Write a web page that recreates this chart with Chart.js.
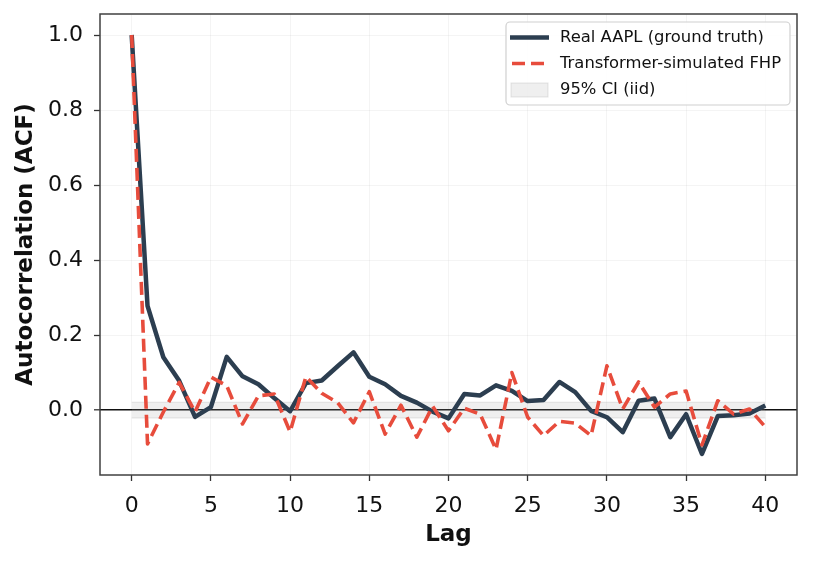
<!doctype html>
<html lang="en">
<head>
  <meta charset="utf-8">
  <title>ACF: Real AAPL vs Transformer-simulated FHP</title>
  <style>
    * {
  margin: 0;
  padding: 0;
  font-family: 'DejaVu Sans', sans-serif;
}
body {
  background: white;
}
.chartBox {
  width: 813px;
  height: 561px;
  position: relative;
}
  </style>
</head>
<body>
<div class="chartBox">
  <canvas id="myChart"></canvas>
</div>

<script src="https://cdn.jsdelivr.net/npm/chart.js"></script>
<script>
// data
const lags = [0, 1, 2, 3, 4, 5, 6, 7, 8, 9, 10, 11, 12, 13, 14, 15, 16, 17, 18, 19, 20,
  21, 22, 23, 24, 25, 26, 27, 28, 29, 30, 31, 32, 33, 34, 35, 36, 37, 38, 39, 40];

const realAcf = [1.0, 0.278, 0.141, 0.078, -0.018, 0.008, 0.142, 0.090, 0.069, 0.032, -0.003,
  0.072, 0.079, 0.117, 0.154, 0.089, 0.069, 0.038, 0.020, -0.004, -0.022,
  0.043, 0.039, 0.066, 0.051, 0.024, 0.027, 0.075, 0.048, -0.002, -0.019,
  -0.059, 0.025, 0.031, -0.072, -0.011, -0.117, -0.016, -0.014, -0.009, 0.012];

const fhpAcf = [1.0, -0.090, -0.005, 0.074, -0.005, 0.088, 0.065, -0.037, 0.038, 0.043, -0.058,
  0.089, 0.045, 0.020, -0.034, 0.049, -0.064, 0.013, -0.072, 0.010, -0.055,
  0.005, -0.011, -0.105, 0.100, -0.019, -0.068, -0.030, -0.035, -0.068, 0.118,
  0.003, 0.075, 0.008, 0.043, 0.051, -0.093, 0.025, -0.011, 0.003, -0.045];

// 95% iid band, +/- half width, over the plotted lags
const ciHalfWidth = 0.021;
const ciLags = [0, 40];

const xTicks = [0, 5, 10, 15, 20, 25, 30, 35, 40];
const yTicks = [0.0, 0.2, 0.4, 0.6, 0.8, 1.0];

const seriesLabels = ['Real AAPL (ground truth)', 'Transformer-simulated FHP', '95% CI (iid)'];

const navy = '#2c3e50';
const red = '#e74c3c';
const bandFill = 'rgba(160,160,160,0.17)';
const bandEdge = 'rgba(160,160,160,0.28)';

// frame round the plot (matplotlib spines)
const framePlugin = {
  id: 'frame',
  afterDraw(chart) {
    const {ctx, chartArea: a} = chart;
    ctx.save();
    ctx.strokeStyle = '#404040';
    ctx.lineWidth = 1.5;
    ctx.strokeRect(a.left, a.top, a.right - a.left, a.bottom - a.top);
    ctx.restore();
  }
};

// legend box in the upper right
const legendPlugin = {
  id: 'boxLegend',
  afterDraw(chart) {
    const ctx = chart.ctx;
    const x0 = 506, y0 = 22, w = 284, h = 83;
    ctx.save();
    ctx.beginPath();
    ctx.roundRect(x0, y0, w, h, 4);
    ctx.fillStyle = 'rgba(255,255,255,0.85)';
    ctx.fill();
    ctx.strokeStyle = '#d0d0d0';
    ctx.lineWidth = 1.2;
    ctx.stroke();

    const rows = [37.5, 63.5, 90];
    ctx.lineCap = 'butt';
    // solid line
    ctx.beginPath();
    ctx.strokeStyle = navy;
    ctx.lineWidth = 4.5;
    ctx.moveTo(510, rows[0]);
    ctx.lineTo(549, rows[0]);
    ctx.stroke();
    // dashed line
    ctx.beginPath();
    ctx.strokeStyle = red;
    ctx.lineWidth = 3.6;
    ctx.setLineDash([13, 6]);
    ctx.moveTo(512, rows[1]);
    ctx.lineTo(549, rows[1]);
    ctx.stroke();
    ctx.setLineDash([]);
    // band patch
    ctx.fillStyle = bandFill;
    ctx.fillRect(511, rows[2] - 7, 37, 14);
    ctx.strokeStyle = bandEdge;
    ctx.lineWidth = 1;
    ctx.strokeRect(511, rows[2] - 7, 37, 14);

    ctx.fillStyle = '#111';
    ctx.font = '16.4px "DejaVu Sans"';
    ctx.textBaseline = 'middle';
    seriesLabels.forEach((t, i) => ctx.fillText(t, 560, rows[i]));
    ctx.restore();
  }
};

const data = {
  labels: lags,
  datasets: [
    {
      label: seriesLabels[2],
      data: ciLags.map(l => ({x: l, y: ciHalfWidth})),
      borderColor: bandEdge,
      borderWidth: 1,
      pointRadius: 0,
      fill: false,
      order: 3
    },
    {
      label: seriesLabels[2] + ' lower',
      data: ciLags.map(l => ({x: l, y: -ciHalfWidth})),
      borderColor: bandEdge,
      borderWidth: 1,
      backgroundColor: bandFill,
      pointRadius: 0,
      fill: '-1',
      order: 2
    },
    {
      label: seriesLabels[0],
      data: lags.map((l, i) => ({x: l, y: realAcf[i]})),
      borderColor: navy,
      borderWidth: 4.5,
      borderJoinStyle: 'round',
      borderCapStyle: 'butt',
      pointRadius: 0,
      fill: false,
      order: 1
    },
    {
      label: seriesLabels[1],
      data: lags.map((l, i) => ({x: l, y: fhpAcf[i]})),
      borderColor: red,
      borderWidth: 3.6,
      borderDash: [13, 6],
      borderJoinStyle: 'round',
      pointRadius: 0,
      fill: false,
      order: 0
    }
  ]
};

const tickFont = {family: 'DejaVu Sans', size: 22};
const titleFont = {family: 'DejaVu Sans', size: 23, weight: 'bold'};

const config = {
  type: 'line',
  data,
  options: {
    responsive: true,
    maintainAspectRatio: false,
    animation: false,
    layout: {padding: {left: 0, right: 16, top: 14, bottom: 0}},
    scales: {
      x: {
        type: 'linear',
        min: -2,
        max: 42,
        afterBuildTicks: (scale) => { scale.ticks = xTicks.map(v => ({value: v})); },
        afterFit: (scale) => {
          scale.height = 86;
          scale.paddingLeft = 0;
          scale.paddingRight = 0;
        },
        border: {display: false},
        grid: {
          color: 'rgba(0,0,0,0.045)',
          lineWidth: 1,
          tickColor: '#333',
          tickLength: 6,
          tickWidth: 1.3
        },
        ticks: {
          color: '#111',
          font: tickFont,
          padding: 12,
          maxRotation: 0,
          callback: (v) => String(v)
        },
        title: {
          display: true,
          text: 'Lag',
          color: '#111',
          font: titleFont,
          padding: {top: 0, bottom: 12}
        }
      },
      y: {
        min: -0.173,
        max: 1.056,
        afterBuildTicks: (scale) => { scale.ticks = yTicks.map(v => ({value: v})); },
        afterFit: (scale) => {
          scale.width = 100;
          scale.paddingTop = 0;
          scale.paddingBottom = 0;
        },
        border: {display: false},
        grid: {
          color: (context) => {
            if (context.tick && context.tick.value === 0) {
              return '#111';
            } else {
              return 'rgba(0,0,0,0.045)';
            }
          },
          lineWidth: (context) => (context.tick && context.tick.value === 0) ? 1.6 : 1,
          tickColor: '#333',
          tickLength: 6,
          tickWidth: 1.3
        },
        ticks: {
          color: '#111',
          font: tickFont,
          padding: 11,
          callback: (v) => v.toFixed(1)
        },
        title: {
          display: true,
          text: 'Autocorrelation (ACF)',
          color: '#111',
          font: titleFont,
          padding: {top: 12, bottom: 0}
        }
      }
    },
    plugins: {
      legend: {display: false},
      tooltip: {enabled: false}
    }
  },
  plugins: [framePlugin, legendPlugin]
};

const myChart = new Chart(document.getElementById('myChart'), config);
</script>
</body>
</html>
